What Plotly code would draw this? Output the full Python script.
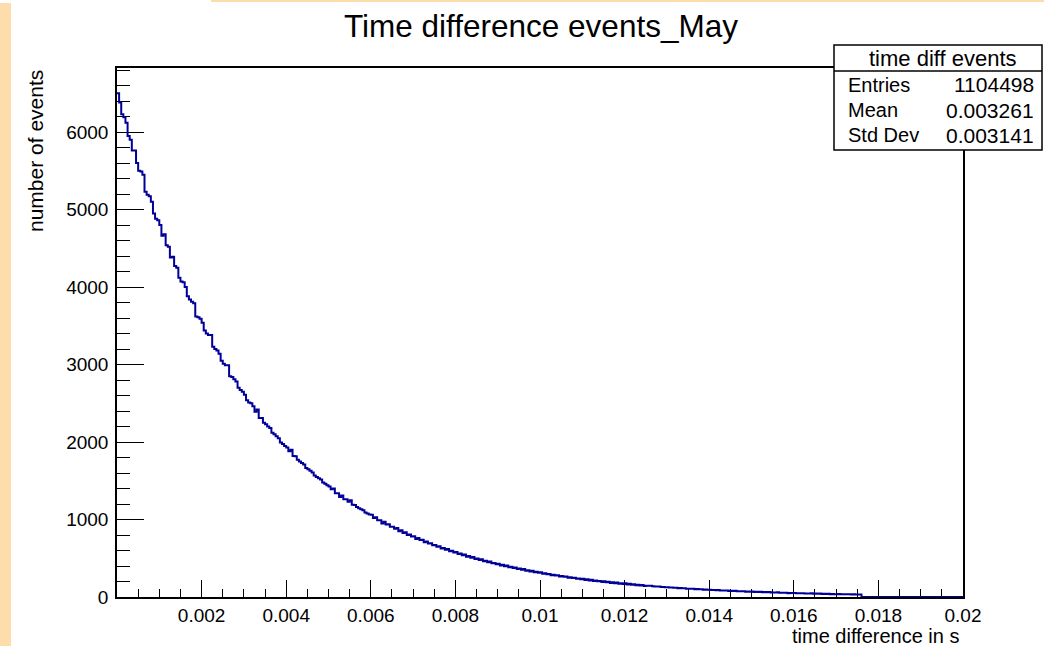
import plotly.graph_objects as go

# ---- data ----
bin_width = 5e-5
counts = [
    6500, 6380, 6230, 6190, 6120, 5950, 5900, 5760, 5760, 5600,
    5500, 5490, 5450, 5230, 5190, 5170, 5100, 4950, 4880, 4860,
    4800, 4660, 4680, 4540, 4520, 4380, 4390, 4270, 4250, 4120,
    4070, 4060, 4000, 3880, 3840, 3810, 3790, 3620, 3610, 3590,
    3540, 3440, 3400, 3380, 3380, 3230, 3200, 3180, 3140, 3050,
    3010, 2990, 2990, 2850, 2840, 2810, 2780, 2700, 2670, 2650,
    2610, 2540, 2510, 2500, 2460, 2390, 2420, 2310, 2310, 2250,
    2230, 2200, 2180, 2120, 2100, 2075, 2050, 1995, 1975, 1950,
    1930, 1880, 1900, 1820, 1815, 1770, 1750, 1730, 1710, 1665,
    1650, 1628, 1608, 1568, 1550, 1532, 1515, 1476, 1460, 1442,
    1425, 1390, 1400, 1340, 1340, 1290, 1310, 1260, 1262, 1230,
    1250, 1190, 1188, 1160, 1144, 1132, 1118, 1090, 1077, 1066,
    1060, 1020, 1030, 990, 990, 950, 970, 935, 940, 905,
    905, 880, 890, 850, 860, 825, 835, 800, 805, 780,
    785, 750, 760, 735, 740, 708, 715, 690, 695, 668,
    670, 650, 655, 625, 632, 610, 618, 590, 596, 575,
    580, 555, 562, 540, 548, 520, 528, 508, 515, 490,
    496, 478, 486, 460, 468, 450, 458, 434, 440, 424,
    430, 408, 416, 398, 405, 384, 390, 374, 380, 360,
    368, 352, 360, 338, 346, 330, 338, 318, 325, 312,
    318, 300, 306, 292, 298, 282, 288, 276, 282, 266,
    272, 260, 266, 250, 256, 244, 250, 234, 240, 228,
    236, 220, 228, 214, 222, 206, 214, 202, 208, 194,
    202, 190, 196, 182, 190, 178, 186, 172, 178, 168,
    176, 162, 170, 158, 164, 152, 158, 148, 154, 142,
    146, 144, 144, 138, 137, 135, 135, 129, 129, 127,
    127, 121, 122, 120, 120, 114, 115, 113, 113, 107,
    108, 106, 107, 101, 102, 100, 101, 95, 96, 94,
    95, 89, 90, 88, 90, 84, 85, 83, 84, 78,
    80, 78, 80, 74, 75, 73, 75, 69, 71, 69,
    71, 65, 67, 65, 67, 61, 63, 61, 63, 57,
    59, 57, 60, 54, 56, 54, 56, 50, 53, 51,
    53, 47, 49, 47, 50, 44, 46, 44, 47, 41,
    44, 42, 44, 38, 41, 39, 42, 36, 39, 37,
    36, 38, 37, 35, 36, 34, 35, 33, 34, 32,
    33, 31, 0, 0, 0, 0, 0, 0, 0, 0,
    0, 0, 0, 0, 0, 0, 0, 0, 0, 0,
    0, 0, 0, 0, 0, 0, 0, 0, 0, 0,
    0, 0, 0, 0, 0, 0, 0, 0, 0, 0,
    0, 0, 0, 0, 0, 0, 0, 0, 0, 0,
]
x_tickvals = [0.002, 0.004, 0.006, 0.008, 0.01, 0.012, 0.014, 0.016, 0.018, 0.02]
x_ticktext = ["0.002", "0.004", "0.006", "0.008", "0.01", "0.012", "0.014", "0.016", "0.018", "0.02"]
y_tickvals = [0, 1000, 2000, 3000, 4000, 5000, 6000]
y_ticktext = ["0", "1000", "2000", "3000", "4000", "5000", "6000"]
stats_title = "time diff events"
stats_names = ["Entries", "Mean", "Std Dev"]
stats_values = ["1104498", "0.003261", "0.003141"]

# histogram outline (step)
edges = [i * bin_width for i in range(len(counts) + 1)]
xs = edges
ys = counts + [counts[-1]]

W, H = 1044, 646
L, R, T, B = 117, 963, 68, 597


def px(xp):
    return (xp - L) / (R - L)


def py(yp):
    return (B - yp) / (B - T)


FONT = "Liberation Sans, Arial, Helvetica, sans-serif"

fig = go.Figure()
fig.add_trace(go.Scatter(
    x=xs, y=ys, mode="lines", line=dict(color="#000099", width=2, shape="hv"),
    hoverinfo="skip", showlegend=False,
))

shapes = []
orange = "#FDDDAB"
shapes.append(dict(type="rect", xref="paper", yref="paper", x0=px(0), x1=px(11), y0=py(646), y1=py(3),
                   fillcolor=orange, line=dict(width=0), layer="above"))
shapes.append(dict(type="rect", xref="paper", yref="paper", x0=px(211), x1=px(1044), y0=py(2), y1=py(0),
                   fillcolor=orange, line=dict(width=0), layer="above"))
# stats box
shapes.append(dict(type="rect", xref="paper", yref="paper", x0=px(834), x1=px(1042), y0=py(150), y1=py(45),
                   fillcolor="white", line=dict(color="black", width=1.5), layer="above"))
shapes.append(dict(type="line", xref="paper", yref="paper", x0=px(834), x1=px(1042), y0=py(71), y1=py(71),
                   line=dict(color="black", width=1.5), layer="above"))

ann = []
ann.append(dict(text="Time difference events_May", xref="paper", yref="paper", x=px(541), y=py(26),
                xanchor="center", yanchor="middle", showarrow=False, font=dict(family=FONT, size=31.5, color="black")))
ann.append(dict(text="time difference in s", xref="paper", yref="paper", x=px(962), y=py(636),
                xanchor="right", yanchor="middle", showarrow=False, font=dict(family=FONT, size=20, color="black")))
ann.append(dict(text="number of events", xref="paper", yref="paper", x=px(35), y=py(68),
                xanchor="center", yanchor="top", textangle=-90, showarrow=False,
                font=dict(family=FONT, size=21, color="black")))
ann.append(dict(text=stats_title, xref="paper", yref="paper", x=px(943), y=py(58),
                xanchor="center", yanchor="middle", showarrow=False, font=dict(family=FONT, size=22, color="black")))
row_y = [85, 110, 135]
for name, val, yy in zip(stats_names, stats_values, row_y):
    ann.append(dict(text=name, xref="paper", yref="paper", x=px(846), y=py(yy),
                    xanchor="left", yanchor="middle", showarrow=False, font=dict(family=FONT, size=20, color="black")))
    ann.append(dict(text=val, xref="paper", yref="paper", x=px(1036), y=py(yy),
                    xanchor="right", yanchor="middle", showarrow=False, font=dict(family=FONT, size=21, color="black")))

fig.update_layout(
    width=W, height=H,
    margin=dict(l=L, r=W - R, t=T, b=H - B, pad=0),
    paper_bgcolor="white", plot_bgcolor="white",
    shapes=shapes, annotations=ann,
    font=dict(family=FONT, color="black"),
    xaxis=dict(
        range=[0, 0.02], showgrid=False, zeroline=False,
        showline=True, mirror=True, linecolor="black", linewidth=1.5,
        tickmode="array", tickvals=x_tickvals, ticktext=x_ticktext,
        ticks="inside", ticklen=17, tickcolor="black", tickwidth=1,
        minor=dict(dtick=0.0005, tick0=0, ticks="inside", ticklen=8, tickcolor="black", tickwidth=1, showgrid=False),
        tickfont=dict(family=FONT, size=19, color="black"),
        layer="below traces",
    ),
    yaxis=dict(
        range=[0, 6826], showgrid=False, zeroline=False,
        showline=True, mirror=True, linecolor="black", linewidth=1.5,
        tickmode="array", tickvals=y_tickvals, ticktext=y_ticktext,
        ticks="inside", ticklen=27, tickcolor="black", tickwidth=1,
        minor=dict(dtick=200, tick0=0, ticks="inside", ticklen=13, tickcolor="black", tickwidth=1, showgrid=False),
        tickfont=dict(family=FONT, size=19, color="black"),
        ticklabelstandoff=3,
        layer="below traces",
    ),
)

fig.write_html("out.html")
